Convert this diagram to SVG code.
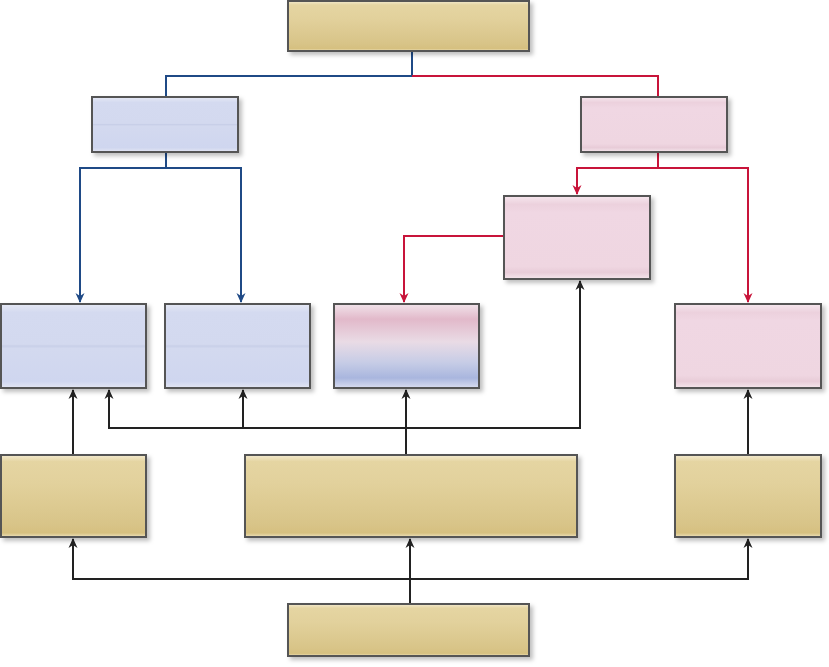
<svg xmlns="http://www.w3.org/2000/svg" width="829" height="667" viewBox="0 0 829 667">
<defs>
<linearGradient id="gTan" x1="0" y1="0" x2="0" y2="1">
<stop offset="0" stop-color="#f3ead0"/>
<stop offset="0.08" stop-color="#e5d5a2"/>
<stop offset="0.35" stop-color="#e2d19c"/>
<stop offset="0.85" stop-color="#d8c488"/>
<stop offset="0.95" stop-color="#d6c080"/>
<stop offset="1" stop-color="#eee2bc"/>
</linearGradient>
<linearGradient id="gBlue" x1="0" y1="0" x2="0" y2="1">
<stop offset="0" stop-color="#e6e9f5"/>
<stop offset="0.1" stop-color="#d4daf0"/>
<stop offset="0.48" stop-color="#d3d9ef"/>
<stop offset="0.5" stop-color="#c8cfe8"/>
<stop offset="0.53" stop-color="#d3d9ef"/>
<stop offset="0.92" stop-color="#cfd6ef"/>
<stop offset="1" stop-color="#e3e6f3"/>
</linearGradient>
<linearGradient id="gPink" x1="0" y1="0" x2="0" y2="1">
<stop offset="0" stop-color="#f6e7ee"/>
<stop offset="0.1" stop-color="#ecd1dd"/>
<stop offset="0.2" stop-color="#f0d7e3"/>
<stop offset="0.85" stop-color="#efd6e1"/>
<stop offset="0.92" stop-color="#e8ccd8"/>
<stop offset="1" stop-color="#f5e6ec"/>
</linearGradient>
<linearGradient id="gMix" x1="0" y1="0" x2="0" y2="1">
<stop offset="0" stop-color="#f1e3ea"/>
<stop offset="0.18" stop-color="#e2b9ca"/>
<stop offset="0.45" stop-color="#e9dbe5"/>
<stop offset="0.7" stop-color="#c6cce6"/>
<stop offset="0.88" stop-color="#a9b6de"/>
<stop offset="1" stop-color="#d9ddf0"/>
</linearGradient>
<filter id="sh" x="-10%" y="-10%" width="125%" height="130%">
<feDropShadow dx="3" dy="3" stdDeviation="2" flood-color="#000" flood-opacity="0.25"/>
</filter>
<marker id="aB" markerWidth="10" markerHeight="10" refX="9" refY="5" orient="auto-start-reverse" markerUnits="userSpaceOnUse" viewBox="0 0 10 10">
<path d="M0,0.5 L10,5 L0,9.5 L3,5 Z" fill="#1f4a86"/>
</marker>
<marker id="aR" markerWidth="10" markerHeight="10" refX="9" refY="5" orient="auto-start-reverse" markerUnits="userSpaceOnUse" viewBox="0 0 10 10">
<path d="M0,0.5 L10,5 L0,9.5 L3,5 Z" fill="#c8143a"/>
</marker>
<marker id="aK" markerWidth="10" markerHeight="10" refX="9" refY="5" orient="auto-start-reverse" markerUnits="userSpaceOnUse" viewBox="0 0 10 10">
<path d="M0,0.5 L10,5 L0,9.5 L3,5 Z" fill="#222"/>
</marker>
</defs>
<style>
.box{stroke:#555;stroke-width:2;filter:url(#sh)}
.tan{fill:url(#gTan)}
.blue{fill:url(#gBlue)}
.pink{fill:url(#gPink)}
.mix{fill:url(#gMix)}
.cb{fill:none;stroke:#1f4a86;stroke-width:2}
.cr{fill:none;stroke:#c8143a;stroke-width:2}
.ck{fill:none;stroke:#222;stroke-width:2}
</style>
<rect width="829" height="667" fill="#ffffff"/>
<g id="connectors">
<path class="cb" d="M412,51 V76 H166 V97"/>
<path class="cr" d="M412,76 H658 V97"/>
<path class="cb" d="M166,152 V168"/>
<path class="cb" d="M80,302 V168 H241 V302" marker-start="url(#aB)" marker-end="url(#aB)"/>
<path class="cr" d="M658,152 V168"/>
<path class="cr" d="M577,194 V168 H748 V302" marker-start="url(#aR)" marker-end="url(#aR)"/>
<path class="cr" d="M504,236 H404 V302" marker-end="url(#aR)"/>
<path class="ck" d="M73,455 V390" marker-end="url(#aK)"/>
<path class="ck" d="M109,390 V428 H580 V281" marker-start="url(#aK)" marker-end="url(#aK)"/>
<path class="ck" d="M243,428 V390" marker-end="url(#aK)"/>
<path class="ck" d="M406,455 V390" marker-end="url(#aK)"/>
<path class="ck" d="M748,455 V390" marker-end="url(#aK)"/>
<path class="ck" d="M410,604 V539" marker-end="url(#aK)"/>
<path class="ck" d="M73,539 V579 H748 V539" marker-start="url(#aK)" marker-end="url(#aK)"/>
</g>
<g id="top"><rect class="box tan" x="288" y="1" width="241" height="50"/></g>
<g id="blueL2"><rect class="box blue" x="92" y="97" width="146" height="55"/></g>
<g id="pinkL2"><rect class="box pink" x="581" y="97" width="146" height="55"/></g>
<g id="pinkMid"><rect class="box pink" x="504" y="196" width="146" height="83"/></g>
<g id="blue1"><rect class="box blue" x="1" y="304" width="145" height="84"/></g>
<g id="blue2"><rect class="box blue" x="165" y="304" width="145" height="84"/></g>
<g id="mixed"><rect class="box mix" x="334" y="304" width="145" height="84"/></g>
<g id="pink3"><rect class="box pink" x="675" y="304" width="146" height="84"/></g>
<g id="tanA"><rect class="box tan" x="1" y="455" width="145" height="82"/></g>
<g id="tanB"><rect class="box tan" x="245" y="455" width="332" height="82"/></g>
<g id="tanC"><rect class="box tan" x="675" y="455" width="146" height="82"/></g>
<g id="bottom"><rect class="box tan" x="288" y="604" width="241" height="52"/></g>
</svg>
